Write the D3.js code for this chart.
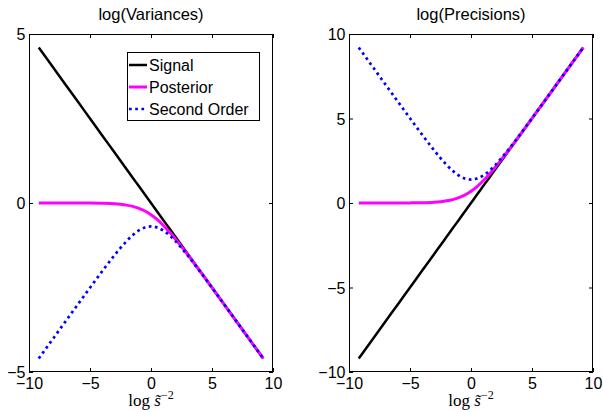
<!DOCTYPE html>
<html>
<head>
<meta charset="utf-8">
<script src="https://cdn.jsdelivr.net/npm/d3@7"></script>
<style>
  html, body { margin: 0; padding: 0; background: #fff; }
  svg { display: block; }
  text { font-family: "Liberation Sans", Arial, Helvetica, sans-serif; }
</style>
</head>
<body>
<svg id="chart" width="603" height="410"></svg>
<script>
// ---- data ----
const xVals = [-9.2, -8, -7, -6, -5, -4, -3, -2.5, -2, -1.5, -1, -0.5, 0, 0.5, 1, 1.5, 2, 2.5, 3, 4, 5, 6, 7, 8, 9.2];

const varSignal    = [4.6, 4, 3.5, 3, 2.5, 2, 1.5, 1.25, 1, 0.75, 0.5, 0.25, 0, -0.25, -0.5, -0.75, -1, -1.25, -1.5, -2, -2.5, -3, -3.5, -4, -4.6];
const varPosterior = [0, -0.0002, -0.0005, -0.001, -0.003, -0.009, -0.024, -0.039, -0.063, -0.101, -0.157, -0.237, -0.347, -0.487, -0.657, -0.851, -1.063, -1.289, -1.524, -2.009, -2.503, -3.001, -3.5, -4.0, -4.6];
const varSecond    = [-4.6, -4.0, -3.501, -3.003, -2.507, -2.018, -1.549, -1.329, -1.127, -0.951, -0.813, -0.724, -0.693, -0.724, -0.813, -0.951, -1.127, -1.329, -1.549, -2.018, -2.507, -3.003, -3.501, -4.0, -4.6];

const precSignal    = [-9.2, -8, -7, -6, -5, -4, -3, -2.5, -2, -1.5, -1, -0.5, 0, 0.5, 1, 1.5, 2, 2.5, 3, 4, 5, 6, 7, 8, 9.2];
const precPosterior = [0.0001, 0.0003, 0.0009, 0.0025, 0.0067, 0.018, 0.049, 0.079, 0.127, 0.201, 0.313, 0.474, 0.693, 0.974, 1.313, 1.701, 2.127, 2.579, 3.049, 4.018, 5.007, 6.002, 7.001, 8.0, 9.2];
const precSecond    = [9.2, 8.001, 7.002, 6.005, 5.013, 4.036, 3.097, 2.658, 2.254, 1.903, 1.627, 1.448, 1.386, 1.448, 1.627, 1.903, 2.254, 2.658, 3.097, 4.036, 5.013, 6.005, 7.002, 8.001, 9.2];

const seriesNames = ["Signal", "Posterior", "Second Order"];
const panelTitles = ["log(Variances)", "log(Precisions)"];
const xTicks = [-10, -5, 0, 5, 10];
const varYTicks = [-5, 0, 5];
const precYTicks = [-10, -5, 0, 5, 10];
const xDomain = [-10, 10];
const varYDomain = [-5, 5];
const precYDomain = [-10, 10];

// ---- styles ----
const styles = [
  { color: "#000000", width: 2.5, dash: null },
  { color: "#ff00ff", width: 3,   dash: null },
  { color: "#0000ff", width: 2.7, dash: "2.7,3.5" }
];

const svg = d3.select("#chart");

function drawPanel(cfg) {
  const { left, right, top, bottom, title, yDomain, yTicks, series, legend } = cfg;
  const x = d3.scaleLinear().domain(xDomain).range([left, right]);
  const y = d3.scaleLinear().domain(yDomain).range([bottom, top]);
  const g = svg.append("g");

  g.append("rect").attr("x", left).attr("y", top)
    .attr("width", right - left).attr("height", bottom - top)
    .attr("fill", "#fff");

  const tick = 4;
  const fmt = d3.format("d");

  const axB = g.append("g").attr("transform", `translate(0,${bottom})`)
    .call(d3.axisBottom(x).tickValues(xTicks).tickSizeInner(-tick).tickSizeOuter(0).tickPadding(6).tickFormat(fmt));
  const axT = g.append("g").attr("transform", `translate(0,${top})`)
    .call(d3.axisTop(x).tickValues(xTicks).tickSizeInner(-tick).tickSizeOuter(0).tickFormat(""));
  const axL = g.append("g").attr("transform", `translate(${left},0)`)
    .call(d3.axisLeft(y).tickValues(yTicks).tickSizeInner(-tick).tickSizeOuter(0).tickPadding(3.5).tickFormat(fmt));
  const axR = g.append("g").attr("transform", `translate(${right},0)`)
    .call(d3.axisRight(y).tickValues(yTicks).tickSizeInner(-tick).tickSizeOuter(0).tickFormat(""));

  [axB, axT, axL, axR].forEach(a => {
    a.selectAll("path.domain").remove();
    a.selectAll("line").attr("stroke", "#000").attr("stroke-width", 1);
    a.selectAll("text").attr("fill", "#000").style("font-size", "16px")
      .style("font-family", '"Liberation Sans", Arial, Helvetica, sans-serif');
  });
  axL.selectAll("text").attr("dy", "0.36em");

  const line = d3.line().x((d, i) => x(xVals[i])).y(d => y(d)).curve(d3.curveMonotoneX);
  series.forEach((vals, k) => {
    const st = styles[k];
    const p = g.append("path").datum(vals)
      .attr("d", line)
      .attr("fill", "none")
      .attr("stroke", st.color)
      .attr("stroke-width", st.width)
      .attr("stroke-linejoin", "round");
    if (st.dash) p.attr("stroke-dasharray", st.dash);
  });

  g.append("rect").attr("x", left + 0.5).attr("y", top + 0.5)
    .attr("width", right - left - 1).attr("height", bottom - top - 1)
    .attr("fill", "none").attr("stroke", "#000").attr("stroke-width", 1);

  g.append("text").attr("x", (left + right) / 2).attr("y", 20)
    .attr("text-anchor", "middle").style("font-size", "16.5px").attr("fill", "#000")
    .text(title);

  const xl = g.append("text").attr("x", (left + right) / 2).attr("y", 406)
    .attr("text-anchor", "middle").attr("fill", "#000")
    .style("font-family", '"Liberation Serif", "DejaVu Serif", serif')
    .style("font-size", "17px");
  xl.append("tspan").text("log ");
  xl.append("tspan").style("font-style", "italic").text("s\u0303");
  xl.append("tspan").attr("dy", -7).style("font-size", "12px").text("\u22122");

  if (legend) {
    const lx = 127, ly = 52, lw = 132, lh = 68;
    g.append("rect").attr("x", lx + 0.5).attr("y", ly + 0.5).attr("width", lw).attr("height", lh)
      .attr("fill", "#fff").attr("stroke", "#000").attr("stroke-width", 1);
    seriesNames.forEach((name, k) => {
      const st = styles[k];
      const yy = ly + 13 + k * 22;
      const l = g.append("line").attr("x1", lx + 2).attr("x2", lx + 20)
        .attr("y1", yy).attr("y2", yy)
        .attr("stroke", st.color).attr("stroke-width", st.width);
      if (st.dash) l.attr("stroke-dasharray", st.dash);
      g.append("text").attr("x", lx + 22).attr("y", yy).attr("dy", "0.36em")
        .style("font-size", "16px").attr("fill", "#000").text(name);
    });
  }
}

drawPanel({
  left: 29, right: 273, top: 34, bottom: 372,
  title: panelTitles[0], yDomain: varYDomain, yTicks: varYTicks,
  series: [varSignal, varPosterior, varSecond], legend: true
});
drawPanel({
  left: 349, right: 593, top: 34, bottom: 372,
  title: panelTitles[1], yDomain: precYDomain, yTicks: precYTicks,
  series: [precSignal, precPosterior, precSecond], legend: false
});
</script>
</body>
</html>
